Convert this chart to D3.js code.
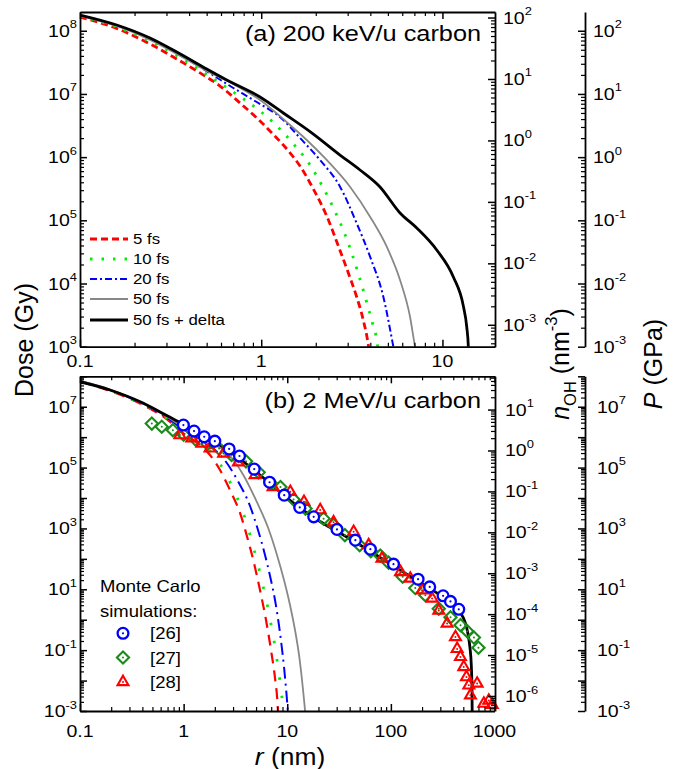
<!DOCTYPE html>
<html><head><meta charset="utf-8">
<script src="https://cdn.jsdelivr.net/npm/d3@7"></script>
<style>
body{margin:0;background:#fff}
svg{display:block}
text{font-family:"Liberation Sans",Arial,sans-serif;fill:#000}
</style>
</head><body>
<svg id="c" width="680" height="769"></svg>
<script>
// ---------------- DATA ----------------
// (a) 200 keV/u carbon : radius r (nm) and dose (Gy)
const topR_5fs  = [0.1,0.1594,0.2434,0.3419,0.4595,0.5925,0.7638,0.985,1.167,1.324,1.504,1.637,1.939,2.298,2.665,3.025,3.365,3.656,3.899,3.934];
const topD_5fs  = [1.651e8,1.085e8,6.17e7,3.57e7,2.15e7,1.335e7,7.19e6,3.73e6,2.28e6,1.556e6,1.005e6,7.24e5,3.13e5,1.17e5,3.92e4,1.466e4,6.11e3,2.65e3,1.064e3,887];
const topR_10fs = [0.1,0.1594,0.2434,0.3419,0.4595,0.7015,0.985,1.167,1.473,1.859,2.201,2.532,2.875,3.183,3.478,3.788,4.104,4.373,4.412];
const topD_10fs = [1.712e8,1.146e8,6.88e7,4.06e7,2.39e7,1.073e7,5.37e6,3.53e6,1.736e6,7.51e5,3.25e5,1.457e5,6.35e4,2.83e4,1.268e4,5.48e3,2.40e3,1.10e3,887];
const topR_20fs = [0.1,0.1594,0.2434,0.3419,0.4595,0.7015,0.9045,1.324,1.637,2.111,2.722,3.365,3.986,4.718,5.358,5.426];
const topD_20fs = [1.743e8,1.211e8,7.40e7,4.45e7,2.67e7,1.242e7,8.02e6,3.87e6,2.01e6,9.01e5,3.40e5,8.97e4,2.66e4,6.18e3,1.0e3,824];
const topR_50fs = [0.1,0.1594,0.2434,0.3419,0.5003,0.699,0.985,1.442,1.783,2.298,3.09,3.986,4.927,5.834,6.624,7.061,7.151];
const topD_50fs = [1.712e8,1.189e8,7.14e7,4.29e7,2.31e7,1.437e7,8.02e6,3.22e6,1.866e6,9.01e5,3.40e5,1.141e5,3.82e4,1.136e4,2.98e3,1.0e3,824];
const topR_delta = [0.1,0.1594,0.2434,0.3419,0.5003,0.6451,0.985,1.324,1.939,2.722,3.51,4.524,5.834,7.216,9.301,11.49,13.04,13.62,13.9,13.93];
const topD_delta = [1.775e8,1.233e8,7.68e7,4.61e7,2.48e7,1.662e7,8.94e6,4.99e6,2.32e6,1.08e6,6.26e5,3.37e5,1.306e5,7.56e4,3.39e4,1.268e4,4.41e3,2.05e3,989,800];

// (b) 2 MeV/u carbon
const botR_5fs  = [0.1,0.1948,0.4055,0.6866,0.9863,1.439,1.797,2.244,2.802,3.499,4.181,4.776,5.458,6.237,6.968,7.618,8.053,8.144];
const botD_5fs  = [6.65e7,3.29e7,1.14e7,3.95e6,1.369e6,5.52e5,2.59e5,8.33e4,1.833e4,3.22e3,417,73.1,9.48,0.979,0.101,0.01215,1.83e-3,9.3e-4];
const botR_10fs = [0.1,0.1948,0.4055,0.6866,0.9863,1.439,1.934,2.564,3.132,3.716,4.209,4.704,5.256,5.834,6.448,7.047,7.618,8.141,8.607,8.999,9.16];
const botD_10fs = [6.75e7,3.42e7,1.184e7,4.26e6,1.594e6,6.93e5,2.59e5,6.15e4,1.461e4,3.60e3,958,245,58.3,12.8,2.82,0.576,0.127,0.0279,6.63e-3,1.83e-3,9.3e-4];
const botR_20fs = [0.1,0.1948,0.4055,0.6866,0.9863,1.439,2.415,3.37,4.372,5.22,6.1,6.89,7.618,8.234,8.806,9.304,9.725,10.06,10.17];
const botD_20fs = [6.90e7,3.55e7,1.229e7,4.43e6,1.854e6,8.06e5,2.02e5,3.44e4,5.46e3,888,134,23.5,4.45,0.841,0.1476,0.0279,5.69e-3,1.35e-3,7.96e-4];
const botR_50fs = [0.1,0.1948,0.4055,0.6866,0.9863,1.439,1.92,2.604,3.132,3.767,5.074,6.563,7.962,9.304,10.63,11.88,12.99,13.88,14.68,15.0];
const botD_50fs = [7.01e7,3.68e7,1.277e7,4.77e6,2.157e6,1.091e6,6.19e5,3.13e5,1.526e5,5.71e4,7.56e3,1.01e3,134,20.2,3.05,0.459,0.0693,0.01045,1.575e-3,6.85e-4];
const botR_delta = [0.1,0.1948,0.4055,0.6866,0.9863,1.439,2.244,3.499,5.458,8.511,13.27,20.71,32.29,50.37,78.56,122.5,191.1,298,388.9,464.6,519.2,555,580.1,597.1,606.6,609.3];
const botD_delta = [6.65e7,3.55e7,1.326e7,5.15e6,2.71e6,1.319e6,5.52e5,1.914e5,5.71e4,1.576e4,4.70e3,1.690e3,708,286,111,43.1,16.7,6.49,3.29,1.79,0.841,0.339,0.1177,0.0325,4.9e-3,7.39e-4];

// Monte Carlo simulations
const mc26R = [0.995,1.26,1.58,2.0,2.75,3.46,4.8,6.75,9.35,13.2,18.0,30.2,45.4,63.4,106,183,237,319,376,452];
const mc26D = [2.5e6,1.58e6,1.03e6,7.4e5,4.1e5,2.4e5,8.9e4,3.3e4,1.24e4,4.9e3,2.4e3,930,412,208,67,21.5,12,6.1,4.0,2.2];
const mc27R = [0.493,0.615,0.787,1.0,1.3,1.7,2.2,2.9,4.0,5.3,7.0,8.6,11.5,15,22.4,28,36,50,64,79,95,130,172,215,290,376,470,545,633,700];
const mc27D = [2.8e6,2.2e6,1.7e6,1.2e6,8.5e5,6e5,4.2e5,2.6e5,1.6e5,7e4,3.0e4,2.3e4,9e3,4.5e3,2.1e3,1.3e3,6e2,2.8e2,1.8e2,1.28e2,75,26,11,6.4,2.3,1.2,0.66,0.42,0.26,0.12];
const mc28R = [0.92,1.2,1.5,1.8,2.43,3.38,4.9,7.3,10.7,14.5,20.8,28,43.7,61,82,124,154,200,250,290,349,420,436,469,505,536,565,586,680,789,881,950];
const mc28D = [1.17e6,9.2e5,6.2e5,4.3e5,2.9e5,1.5e5,5.7e4,2.3e4,1.6e4,7.5e3,4.0e3,1.6e3,773,282,103,37,22.6,9.3,5,2.0,0.75,0.27,0.11,0.06,0.028,0.013,7e-3,3.3e-3,8e-3,1.75e-3,2.2e-3,1.6e-3];

// labels
const seriesLabels = ["5 fs","10 fs","20 fs","50 fs","50 fs + delta"];
const mcLabels = ["[26]","[27]","[28]"];
const topDoseExp = [3,4,5,6,7,8];
const topNExp = [-3,-2,-1,0,1,2];
const topPExp = [-3,-2,-1,0,1,2];
const botDoseExp = [-3,-1,1,3,5,7];
const botNExp = [-6,-5,-4,-3,-2,-1,0,1];
const botPExp = [-3,-1,1,3,5,7];
const topXLabels = [0.1,1,10];
const botXLabels = [0.1,1,10,100,1000];

// ---------------- DRAWING ----------------
const SX = 1.15;
const svg = d3.select("#c");

const xTop = d3.scaleLog().domain([0.1, 19.5]).range([80, 495]);
const yTop = d3.scaleLog().domain([1e3, 1.98e8]).range([346.7, 12]);
const nTop = d3.scaleLog().domain([4.4e-4, 123]).range([346.7, 12]);
const pTop = d3.scaleLog().domain([1e-3, 198]).range([346.7, 12]);
const xBot = d3.scaleLog().domain([0.1, 1000]).range([80, 494.5]);
const yBot = d3.scaleLog().domain([1e-3, 1e8]).range([711, 376.3]);
const nBot = d3.scaleLog().domain([4.3e-7, 65]).range([711, 376.3]);
const pBot = d3.scaleLog().domain([1e-3, 1e8]).range([711, 376.3]);

function rich(parent, x, y, parts, o){
  o = Object.assign({size:17, anchor:"start", rotate:0, sx:SX}, o||{});
  const g = parent.append("g").attr("transform",
    `translate(${x},${y}) scale(${o.sx},1)` + (o.rotate ? ` rotate(${o.rotate})` : ""));
  const t = g.append("text").attr("font-size", o.size).attr("text-anchor", o.anchor);
  let cur = 0;
  parts.forEach(p => {
    const s = typeof p === "string" ? {t:p} : p;
    const target = s.sup ? -0.5*o.size : (s.sub ? 0.28*o.size : 0);
    const ts = t.append("tspan").text(s.t).attr("dy", target - cur);
    if (s.sup || s.sub) ts.attr("font-size", o.size*0.66);
    if (s.it) ts.attr("font-style", "italic");
    cur = target;
  });
  return t;
}

function logTicks(scale){
  const [a,b] = scale.domain();
  const lo = Math.floor(Math.log10(a)), hi = Math.ceil(Math.log10(b));
  const major = [], minor = [];
  for (let e = lo; e <= hi; e++){
    const p = Math.pow(10, e);
    if (p >= a*0.999 && p <= b*1.001) major.push(p);
    for (let k = 2; k < 10; k++){ const v = k*p; if (v >= a && v <= b) minor.push(v); }
  }
  return {major, minor};
}

function drawAxis(axisFn, scale, tx, ty){
  const {major, minor} = logTicks(scale);
  const gm = svg.append("g").attr("transform", `translate(${tx},${ty})`)
    .call(axisFn(scale).tickValues(major).tickSize(-7).tickSizeOuter(0).tickFormat(""));
  const gn = svg.append("g").attr("transform", `translate(${tx},${ty})`)
    .call(axisFn(scale).tickValues(minor).tickSize(-4).tickSizeOuter(0).tickFormat(""));
  gn.select(".domain").remove();
  gm.select(".domain").attr("stroke-width", 1.8).attr("stroke", "#000");
  gm.selectAll(".tick line").attr("stroke-width", 1.5).attr("stroke", "#000");
  gn.selectAll(".tick line").attr("stroke-width", 1.2).attr("stroke", "#000");
}

// clip paths
const defs = svg.append("defs");
defs.append("clipPath").attr("id","clipTop").append("rect")
  .attr("x", 80).attr("y", 12).attr("width", 415).attr("height", 334.7);
defs.append("clipPath").attr("id","clipBot").append("rect")
  .attr("x", 80).attr("y", 376.3).attr("width", 414.5).attr("height", 334.7);

function zip(R, D){ return R.map((r,i) => ({r, d:D[i]})); }

const styles = [
  {color:"#ff0000", wT:2.8, dashT:"7,4", wB:2.2, dashB:"11,7"},
  {color:"#00ee00", wT:2.8, dashT:"2.5,9", wB:2.8, dashB:"2.5,16"},
  {color:"#0000ff", wT:2, dashT:"7,3,2,3", wB:2, dashB:"12,5,2,5"},
  {color:"#888888", wT:1.8, dashT:null, wB:1.8, dashB:null},
  {color:"#000000", wT:2.8, dashT:null, wB:2.8, dashB:null}
];

const topSeries = [zip(topR_5fs,topD_5fs), zip(topR_10fs,topD_10fs), zip(topR_20fs,topD_20fs), zip(topR_50fs,topD_50fs), zip(topR_delta,topD_delta)];
const botSeries = [zip(botR_5fs,botD_5fs), zip(botR_10fs,botD_10fs), zip(botR_20fs,botD_20fs), zip(botR_50fs,botD_50fs), zip(botR_delta,botD_delta)];

const lineTop = d3.line().x(d => xTop(d.r)).y(d => yTop(d.d)).curve(d3.curveMonotoneX);
const lineBot = d3.line().x(d => xBot(d.r)).y(d => yBot(d.d)).curve(d3.curveMonotoneX);

const gTop = svg.append("g").attr("clip-path", "url(#clipTop)");
topSeries.forEach((s,i) => {
  gTop.append("path").attr("d", lineTop(s)).attr("fill","none")
    .attr("stroke", styles[i].color).attr("stroke-width", styles[i].wT)
    .attr("stroke-dasharray", styles[i].dashT);
});
const gBot = svg.append("g").attr("clip-path", "url(#clipBot)");
botSeries.forEach((s,i) => {
  gBot.append("path").attr("d", lineBot(s)).attr("fill","none")
    .attr("stroke", styles[i].color).attr("stroke-width", styles[i].wB)
    .attr("stroke-dasharray", styles[i].dashB);
});

// markers
const symDiamond = d3.symbol().type(d3.symbolDiamond2).size(95);
const symTri = d3.symbol().type(d3.symbolTriangle2).size(85);
function marker(g, kind, cx, cy){
  const mg = g.append("g").attr("transform", `translate(${cx},${cy})`);
  if (kind === 0){
    mg.append("circle").attr("r", 5.4).attr("fill","#fff").attr("stroke","#0000ff").attr("stroke-width",2.3);
    mg.append("circle").attr("r", 1.1).attr("fill","#0000ff");
  } else if (kind === 1){
    mg.append("path").attr("d", symDiamond()).attr("fill","none").attr("stroke","#1a8a1a").attr("stroke-width",2.1);
    mg.append("circle").attr("r", 1.0).attr("fill","#1a8a1a");
  } else {
    mg.append("path").attr("d", symTri()).attr("fill","none").attr("stroke","#ff0000").attr("stroke-width",2.1);
    mg.append("circle").attr("r", 1.0).attr("fill","#ff0000");
  }
}
const gM = svg.append("g");
zip(mc27R, mc27D).forEach(d => marker(gM, 1, xBot(d.r), yBot(d.d)));
zip(mc28R, mc28D).forEach(d => marker(gM, 2, xBot(d.r), yBot(d.d)));
zip(mc26R, mc26D).forEach(d => marker(gM, 0, xBot(d.r), yBot(d.d)));

// axes: top panel
drawAxis(d3.axisBottom, xTop, 0, 346.7);
drawAxis(d3.axisTop, xTop, 0, 12);
drawAxis(d3.axisLeft, yTop, 80, 0);
drawAxis(d3.axisRight, nTop, 495, 0);
drawAxis(d3.axisRight, pTop, 585, 0);
// axes: bottom panel
drawAxis(d3.axisBottom, xBot, 0, 711);
drawAxis(d3.axisTop, xBot, 0, 376.3);
drawAxis(d3.axisLeft, yBot, 80, 0);
drawAxis(d3.axisRight, nBot, 495, 0);
drawAxis(d3.axisRight, pBot, 585, 0);

// tick labels
const gL = svg.append("g");
function expLabel(x, y, e, anchor){ return rich(gL, x, y, ["10", {t:String(e), sup:true}], {size:17, anchor}); }
topDoseExp.forEach(e => expLabel(77, yTop(Math.pow(10,e)) + 6, e, "end"));
topNExp.forEach(e => expLabel(503, nTop(Math.pow(10,e)) + 6, e, "start"));
topPExp.forEach(e => expLabel(593, pTop(Math.pow(10,e)) + 6, e, "start"));
botDoseExp.forEach(e => expLabel(77, yBot(Math.pow(10,e)) + 6, e, "end"));
botNExp.forEach(e => expLabel(505, nBot(Math.pow(10,e)) + 6, e, "start"));
botPExp.forEach(e => expLabel(597, pBot(Math.pow(10,e)) + 6, e, "start"));
topXLabels.forEach(v => rich(gL, xTop(v), 367, [String(v)], {size:17, anchor:"middle"}));
botXLabels.forEach(v => rich(gL, xBot(v), 736.5, [String(v)], {size:17, anchor:"middle"}));

// panel labels
rich(gL, 481, 40.5, ["(a) 200 keV/u carbon"], {size:22, anchor:"end"});
rich(gL, 481, 408, ["(b) 2 MeV/u carbon"], {size:22, anchor:"end"});

// axis titles
rich(gL, 33, 340, ["Dose (Gy)"], {size:25, anchor:"middle", rotate:-90, sx:1});
rich(gL, 569, 364, [{t:"n", it:true}, {t:"OH", sub:true}, " (nm", {t:"-3", sup:true}, ")"], {size:25, anchor:"middle", rotate:-90, sx:1});
rich(gL, 662, 364, [{t:"P", it:true}, " (GPa)"], {size:25, anchor:"middle", rotate:-90, sx:1});
rich(gL, 290, 765, [{t:"r", it:true}, " (nm)"], {size:24, anchor:"middle", sx:1.1});

// legend (a)
const legY = [239, 259, 279, 299, 320];
seriesLabels.forEach((lab, i) => {
  gL.append("line").attr("x1", 90).attr("x2", 128).attr("y1", legY[i]).attr("y2", legY[i])
    .attr("stroke", styles[i].color).attr("stroke-width", styles[i].wT)
    .attr("stroke-dasharray", styles[i].dashT);
  rich(gL, 133, legY[i] + 5.3, [lab], {size:15, anchor:"start", sx:1.12});
});

// legend (b)
rich(gL, 100, 592, ["Monte Carlo"], {size:16.5, sx:1.12});
rich(gL, 100, 616.7, ["simulations:"], {size:16.5, sx:1.12});
const mcY = [633.3, 657.5, 682];
mcLabels.forEach((lab, i) => {
  marker(gL, i, 123, mcY[i]);
  rich(gL, 150, mcY[i] + 6, [lab], {size:16.5, sx:1.12});
});
</script>
</body></html>
